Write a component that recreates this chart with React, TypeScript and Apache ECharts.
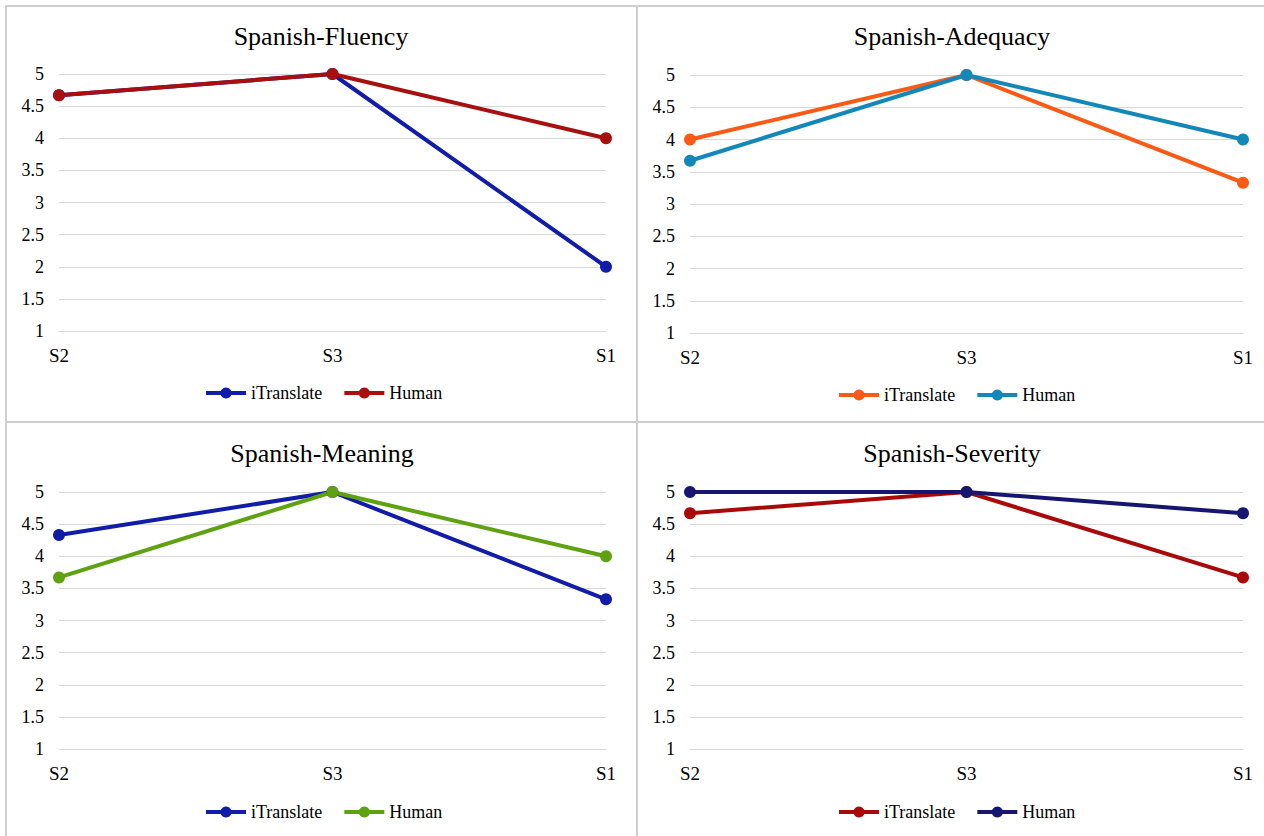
import React, { useEffect, useRef } from "react";
import * as echarts from "echarts";

const categories = ["S2", "S3", "S1"];
const yTicks = { min: 1, max: 5, interval: 0.5 };
const yTickLabels = [1, 1.5, 2, 2.5, 3, 3.5, 4, 4.5, 5];

const fluencyITranslate = [4.67, 5, 2];
const fluencyHuman = [4.67, 5, 4];
const adequacyITranslate = [4, 5, 3.33];
const adequacyHuman = [3.67, 5, 4];
const meaningITranslate = [4.33, 5, 3.33];
const meaningHuman = [3.67, 5, 4];
const severityITranslate = [4.67, 5, 3.67];
const severityHuman = [5, 5, 4.67];

const seriesNames = ["iTranslate", "Human"];
const panelTitles = ["Spanish-Fluency", "Spanish-Adequacy", "Spanish-Meaning", "Spanish-Severity"];
const panelData = [
  [fluencyITranslate, fluencyHuman],
  [adequacyITranslate, adequacyHuman],
  [meaningITranslate, meaningHuman],
  [severityITranslate, severityHuman],
];

const FONT = "Liberation Serif";

const panelColors = [
  ["#111ca8", "#a80f0f"],
  ["#fa5a14", "#1288b8"],
  ["#111ca8", "#5ea212"],
  ["#a80a0a", "#161670"],
];
const grids = [
  { left: 59, right: 658, top: 74, height: 257 },
  { left: 690, right: 21, top: 75, height: 258 },
  { left: 59, right: 658, top: 492, height: 257 },
  { left: 690, right: 21, top: 492, height: 257 },
];
const titlePos = [
  { x: 316, top: 18 },
  { x: 947, top: 18 },
  { x: 317, top: 435 },
  { x: 947, top: 435 },
];
const legendPos = [
  { left: 199, top: 379 },
  { left: 832, top: 381 },
  { left: 199, top: 798 },
  { left: 832, top: 798 },
];

export default function App() {
  const ref = useRef<HTMLDivElement>(null);
  useEffect(() => {
    if (!ref.current) return;
    const chart = echarts.init(ref.current, undefined, { renderer: "svg" });
    const idx = [0, 1, 2, 3];

    const lineSeries = idx.flatMap((i) =>
      seriesNames.map((name, s) => ({
        name,
        type: "line",
        xAxisIndex: i,
        yAxisIndex: i,
        data: panelData[i][s],
        symbol: "circle",
        symbolSize: 12,
        lineStyle: { width: 4, color: panelColors[i][s] },
        itemStyle: { color: panelColors[i][s] },
      }))
    );

    const yLabelSeries = idx.map((i) => ({
      name: "yLabels-" + i,
      type: "custom",
      xAxisIndex: i,
      yAxisIndex: i,
      silent: true,
      clip: false,
      encode: { x: 0, y: 1 },
      data: yTickLabels.map((v) => [0, v]),
      renderItem: (params: any, api: any) => {
        const v = yTickLabels[params.dataIndex];
        const p = api.coord([0, v]);
        return {
          type: "text",
          x: p[0] - 15,
          y: p[1],
          style: {
            text: String(v),
            fill: "#000",
            fontFamily: FONT,
            fontSize: 18,
            align: "right",
            verticalAlign: "middle",
          },
        };
      },
    }));

    const xLabelSeries = idx.map((i) => ({
      name: "xLabels-" + i,
      type: "custom",
      xAxisIndex: i,
      yAxisIndex: i,
      silent: true,
      clip: false,
      encode: { x: 0, y: 1 },
      data: categories.map((c, k) => [k, yTicks.min]),
      renderItem: (params: any, api: any) => {
        const k = params.dataIndex;
        const p = api.coord([k, yTicks.min]);
        return {
          type: "text",
          x: p[0],
          y: p[1] + 24,
          style: {
            text: categories[k],
            fill: "#000",
            fontFamily: FONT,
            fontSize: 19,
            align: "center",
            verticalAlign: "middle",
          },
        };
      },
    }));

    chart.setOption({
      animation: false,
      title: idx.map((i) => ({
        text: panelTitles[i],
        left: titlePos[i].x,
        top: titlePos[i].top,
        textAlign: "center",
        textStyle: { fontFamily: FONT, fontSize: 26, fontWeight: "normal", color: "#000" },
      })),
      legend: idx.map((i) => ({
        left: legendPos[i].left,
        top: legendPos[i].top,
        itemWidth: 40,
        itemHeight: 14,
        itemGap: 20,
        lineStyle: { width: 4 },
        textStyle: { fontFamily: FONT, fontSize: 18, color: "#000" },
        data: seriesNames.map((name, s) => ({
          name,
          itemStyle: { color: panelColors[i][s] },
          lineStyle: { color: panelColors[i][s], width: 4 },
        })),
      })),
      grid: grids,
      xAxis: idx.map((i) => ({
        type: "category",
        gridIndex: i,
        data: categories,
        boundaryGap: false,
        axisLine: { show: true, lineStyle: { color: "#d9d9d9", width: 1 } },
        axisTick: { show: false },
        axisLabel: { show: false },
      })),
      yAxis: idx.map((i) => ({
        type: "value",
        gridIndex: i,
        min: yTicks.min,
        max: yTicks.max,
        interval: yTicks.interval,
        axisLine: { show: false },
        axisTick: { show: false },
        axisLabel: { show: false },
        splitLine: { lineStyle: { color: "#d9d9d9", width: 1 } },
      })),
      series: [...lineSeries, ...yLabelSeries, ...xLabelSeries],
    });
    return () => chart.dispose();
  }, []);
  const border = "#cfcfcf";
  return (
    <>
      <div ref={ref} style={{ position: "absolute", left: 0, top: 0, width: 1264, height: 836 }} />
      <div style={{ position: "absolute", left: 5, top: 5, width: 1259, height: 2, background: border }} />
      <div style={{ position: "absolute", left: 5, top: 5, width: 2, height: 831, background: border }} />
      <div style={{ position: "absolute", left: 636, top: 5, width: 2, height: 831, background: border }} />
      <div style={{ position: "absolute", left: 5, top: 421, width: 1259, height: 2, background: border }} />
    </>
  );
}
